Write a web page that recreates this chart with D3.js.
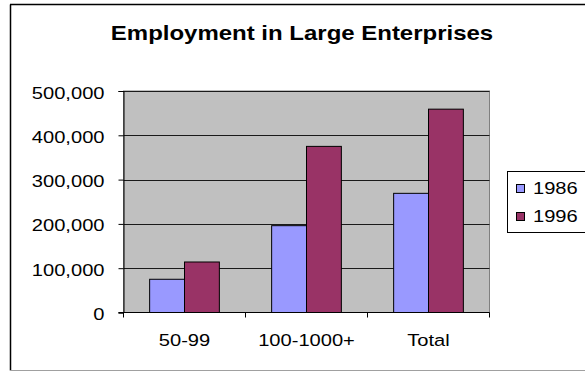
<!DOCTYPE html>
<html>
<head>
<meta charset="utf-8">
<script src="https://cdn.jsdelivr.net/npm/d3@7"></script>
<style>
  html, body { margin: 0; padding: 0; background: #fff; }
  svg { display: block; }
  text { font-family: "Liberation Sans", Arial, sans-serif; fill: #000; }
</style>
</head>
<body>
<svg id="chart" width="585" height="372"></svg>
<script>
// Chart data
const categories = ["50-99", "100-1000+", "Total"];
const seriesNames = ["1986", "1996"];
const values1986 = [75000, 196000, 269000];
const values1996 = [114000, 375000, 459000];
const yTicks = [0, 100000, 200000, 300000, 400000, 500000];
const seriesColors = ["#9999FF", "#993366"];

const title = "Employment in Large Enterprises";

// The text is drawn a little wider than its natural proportions
const stretch = 1.17;

const svg = d3.select("#chart");
const W = 585, H = 372;

// Outer frame
svg.append("line").attr("x1", 10.5).attr("x2", 10.5).attr("y1", 4.5).attr("y2", 370.5)
  .attr("stroke", "#000").attr("stroke-width", 1.5);
svg.append("line").attr("x1", 10).attr("x2", W + 5).attr("y1", 4.5).attr("y2", 4.5)
  .attr("stroke", "#000").attr("stroke-width", 1.5);
svg.append("line").attr("x1", 10).attr("x2", W + 5).attr("y1", 370.5).attr("y2", 370.5)
  .attr("stroke", "#a0a0a0").attr("stroke-width", 1);

// Title
svg.append("text")
  .attr("transform", `translate(302,39.5) scale(${stretch},1)`)
  .attr("text-anchor", "middle")
  .attr("font-size", 20.5)
  .attr("font-weight", "bold")
  .text(title);

// Plot area
const plot = { left: 123.5, right: 489.5, top: 91, bottom: 312.5 };

const x = d3.scaleBand()
  .domain(categories)
  .range([plot.left, plot.right])
  .paddingInner(0).paddingOuter(0);

const y = d3.scaleLinear()
  .domain([0, 500000])
  .range([plot.bottom, plot.top]);

// Two bars per category, gap of 150% of a bar width
const groupWidth = x.bandwidth() * 2 / 3.5;
const xs = d3.scaleBand()
  .domain(seriesNames)
  .range([0, groupWidth]);

svg.append("rect")
  .attr("x", plot.left).attr("y", plot.top)
  .attr("width", plot.right - plot.left).attr("height", plot.bottom - plot.top)
  .attr("fill", "#C0C0C0")
  .attr("stroke", "#808080").attr("stroke-width", 1);

// Horizontal gridlines
svg.append("g").selectAll("line")
  .data(yTicks.filter(d => d > 0))
  .join("line")
  .attr("x1", plot.left).attr("x2", plot.right)
  .attr("y1", d => Math.round(y(d)) + 0.5).attr("y2", d => Math.round(y(d)) + 0.5)
  .attr("stroke", "#1a1a1a").attr("stroke-width", 1);

// Bars
const rows = categories.map((c, i) => ({ cat: c, vals: [values1986[i], values1996[i]] }));
const groups = svg.append("g").selectAll("g")
  .data(rows)
  .join("g")
  .attr("transform", d => `translate(${x(d.cat) + (x.bandwidth() - groupWidth) / 2},0)`);

groups.selectAll("rect")
  .data(d => d.vals.map((v, j) => ({ name: seriesNames[j], value: v, j })))
  .join("rect")
  .attr("x", d => xs(d.name))
  .attr("y", d => y(d.value))
  .attr("width", xs.bandwidth())
  .attr("height", d => y(0) - y(d.value))
  .attr("fill", d => seriesColors[d.j])
  .attr("stroke", "#000").attr("stroke-width", 1);

// Y axis
const yAxis = svg.append("g")
  .attr("transform", `translate(${plot.left},0)`)
  .call(d3.axisLeft(y).tickValues(yTicks).tickSize(5).tickPadding(0)
    .tickFormat(d3.format(",")));
yAxis.select(".domain").attr("stroke", "#000");
yAxis.selectAll(".tick line").attr("stroke", "#000");
yAxis.selectAll(".tick text")
  .attr("x", null).attr("dy", null)
  .attr("font-size", 17.2)
  .attr("font-family", "Liberation Sans, Arial, sans-serif")
  .attr("transform", `translate(-19,7) scale(${stretch},1)`);

// X axis: ticks on category boundaries
const xAxisG = svg.append("g")
  .attr("transform", `translate(0,${plot.bottom})`);
xAxisG.append("line")
  .attr("x1", plot.left - 5).attr("x2", plot.right)
  .attr("y1", 0).attr("y2", 0)
  .attr("stroke", "#000");
const boundaries = categories.map(c => x(c)).concat([x(categories[categories.length - 1]) + x.bandwidth()]);
xAxisG.selectAll("line.tk")
  .data(boundaries)
  .join("line").attr("class", "tk")
  .attr("x1", d => d).attr("x2", d => d)
  .attr("y1", 0).attr("y2", 5)
  .attr("stroke", "#000");
xAxisG.selectAll("text")
  .data(categories)
  .join("text")
  .attr("text-anchor", "middle")
  .attr("font-size", 17.2)
  .attr("transform", d => `translate(${x(d) + x.bandwidth() / 2},33.5) scale(${stretch},1)`)
  .text(d => d);

// Legend
const legend = svg.append("g");
legend.append("rect")
  .attr("x", 507.5).attr("y", 171.5)
  .attr("width", 100).attr("height", 61)
  .attr("fill", "#fff").attr("stroke", "#000").attr("stroke-width", 1);
const items = legend.selectAll("g")
  .data(seriesNames)
  .join("g")
  .attr("transform", (d, i) => `translate(0,${i * 28})`);
items.append("rect")
  .attr("x", 516.5).attr("y", 184.5)
  .attr("width", 8).attr("height", 8)
  .attr("fill", (d, i) => seriesColors[i])
  .attr("stroke", "#000").attr("stroke-width", 1);
items.append("text")
  .attr("transform", `translate(533,194) scale(${stretch},1)`)
  .attr("font-size", 17.2)
  .text(d => d);
</script>
</body>
</html>
